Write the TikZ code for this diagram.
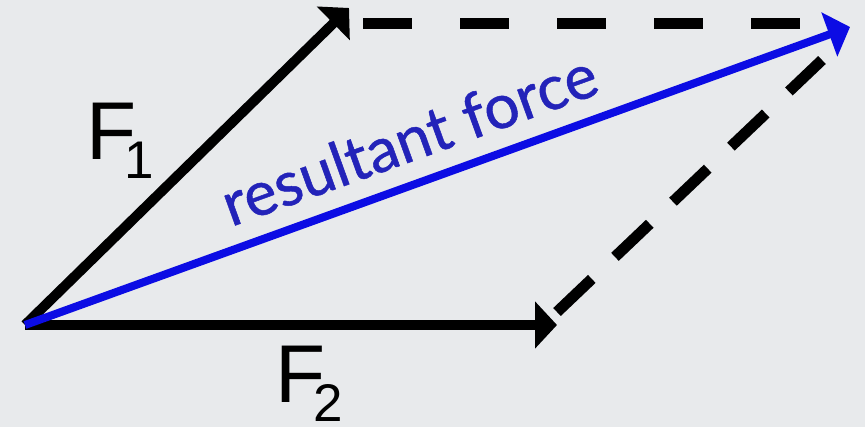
\documentclass[tikz,border=0pt]{standalone}
\usepackage{fontspec}
\setmainfont{Liberation Sans}
\newfontfamily\latofont{Lato}[FakeBold=0.8]
\usetikzlibrary{arrows.meta}
\definecolor{bg}{RGB}{232,234,236}
\definecolor{rblue}{RGB}{12,12,228}
\definecolor{tblue}{RGB}{35,35,185}
\begin{document}
\begin{tikzpicture}[x=1pt,y=-1pt,
  vec/.style={line width=10pt, black, -{Triangle[length=22pt,width=46pt]}},
  resvec/.style={line width=8pt, rblue, -{Triangle[length=22pt,width=46pt]}},
  dashline/.style={line width=11pt, black},
  flabel/.style={inner sep=0pt, anchor=base west, font=\fontsize{82}{82}\selectfont},
  rlabel/.style={inner sep=0pt, anchor=base west, text=tblue, font=\latofont\fontsize{62}{62}\selectfont}]
\fill[bg] (0,0) rectangle (865,427);
\useasboundingbox (0,0) rectangle (865,427);
\coordinate (O) at (25,325);
\coordinate (A) at (349,8);
\coordinate (B) at (557,325);
\coordinate (R) at (850,27);
\coordinate (T1) at (363,24);
\coordinate (T2) at (803,24);
\coordinate (D1) at (557,312);
\coordinate (D2) at (822,60);
\draw[dashline, dash pattern=on 49pt off 48pt] (T1) -- (T2);
\draw[dashline, dash pattern=on 48pt off 32pt] (D1) -- (D2);
\draw[vec] (O) -- (A);
\draw[vec] (O) -- (B);
\draw[resvec] (O) -- (R);
\node[flabel] (f1) at (86,160) {F\kern-12pt\raisebox{-19pt}{\fontsize{53}{53}\selectfont 1}};
\node[flabel] (f2) at (275,403) {F\kern-12pt\raisebox{-19pt}{\fontsize{53}{53}\selectfont 2}};
\node[rlabel, rotate=19.9] (res) at (231,227) {resultant force};
\end{tikzpicture}
\end{document}
